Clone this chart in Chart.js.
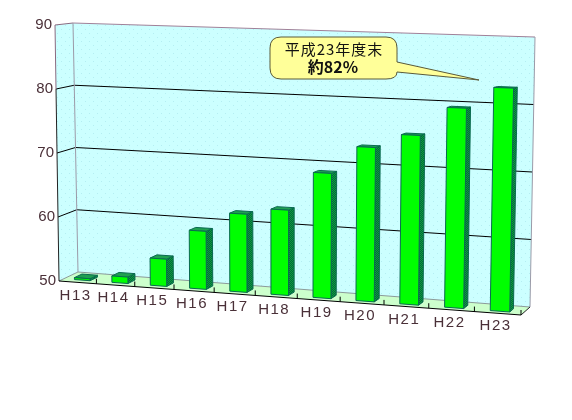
<!DOCTYPE html>
<html>
<head>
  <meta charset="utf-8">
  <title>平成23年度末 約82%</title>
  <script src="https://cdn.jsdelivr.net/npm/chart.js@4"></script>
  <style>body { margin: 0; background: #fff; } canvas { display: block; }</style>
</head>
<body>
  <canvas id="myChart" width="572" height="420"></canvas>
  <script>
    var categories = ['H13', 'H14', 'H15', 'H16', 'H17', 'H18', 'H19', 'H20', 'H21', 'H22', 'H23'];
    var percentValues = [50.3, 51, 54.2, 58.9, 61.9, 62.9, 68.8, 73, 75.1, 79.4, 82.6];
    var yTickMin = 50;
    var yTickMax = 90;
    var yTickStep = 10;
    var calloutLines = ['平成23年度末', '約82%'];

    // corners of the tilted box, f = front plane, b = back wall
    var fTL = [55, 25], fTR = [526, 38], fBL = [59, 281], fBR = [521, 315];
    var bTL = [73, 23], bTR = [535, 37], bBL = [78, 272], bBR = [530, 307];
    var plotArea = null;

    function lerp(a, b, t) { return a + (b - a) * t; }
    function warp(u) { return u - 0.12 * u * (1 - u); } // bars get wider to the right

    function project(u, v, d) {
      var w = warp(u);
      var pts = [0, 1].map(function (i) {
        var front = lerp(lerp(fTL[i], fTR[i], w), lerp(fBL[i], fBR[i], w), v);
        var back = lerp(lerp(bTL[i], bTR[i], w), lerp(bBL[i], bBR[i], w), v);
        return lerp(front, back, d);
      });
      return pts;
    }

    function poly(ctx, pts, fill, stroke, lw) {
      ctx.beginPath();
      pts.forEach(function (p, i) { i ? ctx.lineTo(p[0], p[1]) : ctx.moveTo(p[0], p[1]); });
      ctx.closePath();
      if (fill) { ctx.fillStyle = fill; ctx.fill(); }
      if (stroke) { ctx.strokeStyle = stroke; ctx.lineWidth = lw || 1; ctx.stroke(); }
    }

    function line(ctx, a, b, color, lw) {
      ctx.beginPath();
      ctx.moveTo(a[0], a[1]);
      ctx.lineTo(b[0], b[1]);
      ctx.strokeStyle = color;
      ctx.lineWidth = lw || 1;
      ctx.stroke();
    }

    function dotPattern(ctx) {
      var c = document.createElement('canvas');
      c.width = 8; c.height = 8;
      var p = c.getContext('2d');
      p.fillStyle = '#ccffff';
      p.fillRect(0, 0, 8, 8);
      p.fillStyle = '#b4eef2';
      p.fillRect(1, 1, 1, 1);
      p.fillRect(5, 5, 1, 1);
      return ctx.createPattern(c, 'repeat');
    }

    function ditherPattern(ctx) {
      var c = document.createElement('canvas');
      c.width = 2; c.height = 2;
      var p = c.getContext('2d');
      p.fillStyle = '#006a3a';
      p.fillRect(0, 0, 2, 2);
      p.fillStyle = '#109a40';
      p.fillRect(0, 0, 1, 1);
      p.fillRect(1, 1, 1, 1);
      return ctx.createPattern(c, 'repeat');
    }

    // 3D box instead of the flat rectangle, still placed by the bar's own x/y/base/width
    Chart.BarElement.prototype.draw = function (ctx) {
      var toU = function (px) { return (px - plotArea.left) / plotArea.width; };
      var toV = function (py) { return (py - plotArea.top) / plotArea.height; };
      var u0 = toU(this.x - this.width / 2), u1 = toU(this.x + this.width / 2);
      var vT = toV(this.y), vB = toV(this.base);
      var d0 = 0.25, d1 = 0.65;
      var edge = '#0a6a50';
      ctx.save();
      poly(ctx, [project(u1, vT, d0), project(u1, vT, d1), project(u1, vB, d1), project(u1, vB, d0)], ditherPattern(ctx), edge);
      poly(ctx, [project(u0, vT, d0), project(u0, vT, d1), project(u1, vT, d1), project(u1, vT, d0)], '#1fa050', edge);
      poly(ctx, [project(u0, vT, d0), project(u1, vT, d0), project(u1, vB, d0), project(u0, vB, d0)], this.options.backgroundColor, edge);
      ctx.restore();
    };

    var boxPlugin = {
      id: 'box',
      beforeDatasetsDraw: function (chart) {
        var ctx = chart.ctx, y = chart.scales.y;
        plotArea = chart.chartArea;
        var wall = dotPattern(ctx);
        ctx.save();
        poly(ctx, [fTL, bTL, bBL, fBL], wall);
        poly(ctx, [bTL, bTR, bBR, bBL], wall);
        poly(ctx, [fBL, bBL, bBR, fBR], '#ccffcc');
        y.ticks.forEach(function (t) {
          var v = (y.getPixelForValue(t.value) - plotArea.top) / plotArea.height;
          if (t.value === yTickMin) {
            line(ctx, project(0, 1, 1), project(1, 1, 1), '#8a9a9a');
            line(ctx, project(0, 1, 0), project(0, 1, 1), '#8a9a9a');
          } else if (t.value === yTickMax) {
            line(ctx, fTL, bTL, '#8a6a80');
            line(ctx, bTL, bTR, '#a08098');
          } else {
            line(ctx, project(0, v, 0), project(0, v, 1), '#000');
            line(ctx, project(0, v, 1), project(1, v, 1), '#000');
          }
        });
        line(ctx, bTL, bBL, '#9a9aa8');
        line(ctx, bTR, bBR, '#9a9aa8');
        line(ctx, fTL, [lerp(fTL[0], fBL[0], 0.25), lerp(fTL[1], fBL[1], 0.25)], '#8a6a80');
        line(ctx, [lerp(fTL[0], fBL[0], 0.25), lerp(fTL[1], fBL[1], 0.25)], fBL, '#222');
        line(ctx, fBL, fBR, '#000');
        line(ctx, fBR, bBR, '#222');
        categories.forEach(function (c, i) {
          var p = project((i + 1) / categories.length, 1, 0);
          line(ctx, p, [p[0], p[1] - 5], '#000');
        });
        ctx.restore();
      },
      afterDatasetsDraw: function (chart) {
        var ctx = chart.ctx, y = chart.scales.y, x = chart.scales.x, area = chart.chartArea;
        ctx.save();
        ctx.fillStyle = '#4a3038';
        ctx.font = '15px "Liberation Sans"';
        ctx.textBaseline = 'middle';
        ctx.textAlign = 'right';
        y.ticks.forEach(function (t) {
          var v = (y.getPixelForValue(t.value) - area.top) / area.height;
          var p = project(0, v, 0);
          ctx.fillText(t.label, p[0] - 3, p[1]);
        });
        ctx.textAlign = 'center';
        ctx.letterSpacing = '1.5px';
        x.getLabels().forEach(function (label, i) {
          var u = (x.getPixelForTick(i) - area.left) / area.width;
          var p = project(u, 1, 0);
          ctx.fillText(label, p[0] - 2, p[1] + 13);
        });
        ctx.letterSpacing = '0px';

        // callout
        var l = 270, r = 397, t = 37, b = 79, rad = 11;
        ctx.beginPath();
        ctx.moveTo(l + rad, t);
        ctx.lineTo(r - rad, t);
        ctx.quadraticCurveTo(r, t, r, t + rad);
        ctx.lineTo(r, 62);
        ctx.lineTo(479, 80);
        ctx.lineTo(r, 72);
        ctx.quadraticCurveTo(r, b, r - rad, b);
        ctx.lineTo(l + rad, b);
        ctx.quadraticCurveTo(l, b, l, b - rad);
        ctx.lineTo(l, t + rad);
        ctx.quadraticCurveTo(l, t, l + rad, t);
        ctx.closePath();
        ctx.fillStyle = '#ffff99';
        ctx.fill();
        ctx.strokeStyle = '#5a5a3a';
        ctx.lineWidth = 1;
        ctx.stroke();
        ctx.fillStyle = '#111';
        ctx.font = '15px "Noto Sans CJK JP"';
        ctx.letterSpacing = '1px';
        ctx.fillText(calloutLines[0], 334, 49);
        ctx.font = 'bold 16px "Noto Sans CJK JP"';
        ctx.letterSpacing = '0px';
        ctx.fillText(calloutLines[1], 333, 67);
        ctx.restore();
      }
    };

    new Chart(document.getElementById('myChart').getContext('2d'), {
      type: 'bar',
      data: {
        labels: categories,
        datasets: [{
          data: percentValues,
          base: yTickMin,
          backgroundColor: '#00ff00',
          barPercentage: 0.42,
          categoryPercentage: 1,
          clip: false
        }]
      },
      options: {
        responsive: false,
        animation: false,
        layout: { padding: { left: 59, right: 51, top: 25, bottom: 139 } },
        plugins: { legend: { display: false }, title: { display: false }, tooltip: { enabled: false } },
        scales: {
          x: { grid: { display: false }, border: { display: false }, ticks: { display: false } },
          y: {
            min: yTickMin,
            max: yTickMax,
            grid: { display: false },
            border: { display: false },
            ticks: { display: false, stepSize: yTickStep }
          }
        }
      },
      plugins: [boxPlugin]
    });
  </script>
</body>
</html>
